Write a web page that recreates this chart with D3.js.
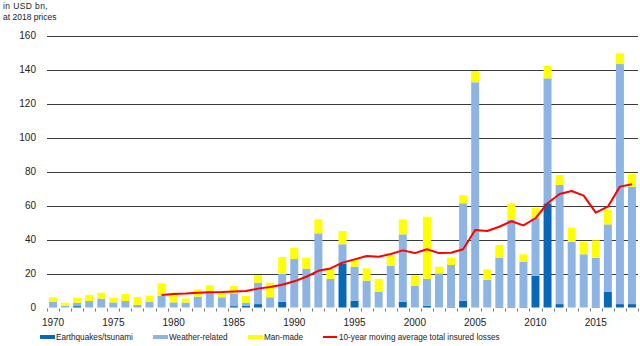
<!DOCTYPE html>
<html>
<head>
<meta charset="utf-8">
<script src="https://cdn.jsdelivr.net/npm/d3@7"></script>
<style>
  body { margin: 0; background: #fff; }
  text { font-family: "Liberation Sans", Arial, sans-serif; fill: #222; }
</style>
</head>
<body>
<svg id="chart" width="640" height="346"></svg>
<script>
// insured losses, USD bn at 2018 prices
var years = [1970,1971,1972,1973,1974,1975,1976,1977,1978,1979,
             1980,1981,1982,1983,1984,1985,1986,1987,1988,1989,
             1990,1991,1992,1993,1994,1995,1996,1997,1998,1999,
             2000,2001,2002,2003,2004,2005,2006,2007,2008,2009,
             2010,2011,2012,2013,2014,2015,2016,2017,2018];

var quake = [0.1,0,0.8,0,0,0,0,0,0,0,
             0,0,0,0,0,0.8,1.0,2.0,0,3.4,
             0,0,0,0,26,4.0,0,0,0,3.4,
             0,1.0,0,0.5,4.0,0,0,0.5,0.5,0.5,
             18.7,61.3,2.0,0,0,0.5,9.3,2.0,2.0];

var weather = [3.3,1.1,2.0,3.8,5.2,3.0,3.8,1.5,3.4,6.9,
               3.0,2.9,6.4,9.7,6.0,7.5,1.8,12.6,6.0,16.5,
               28.5,22.8,43.6,16.8,11.2,20.0,15.8,9.3,24.6,39.6,
               12.8,15.8,20.1,24.5,57.3,132.5,16.2,28.8,51.0,26.4,
               33.8,73.5,70.1,38.7,31.3,28.8,39.6,141.2,69.1];

var manmade = [2.6,1.7,3.0,3.6,3.5,2.8,4.1,4.7,3.5,7.3,
               5.7,2.4,4.3,3.3,2.5,4.3,4.0,4.5,8.6,9.8,
               6.7,6.5,8.3,5.8,7.8,4.3,7.2,7.5,5.9,8.9,
               6.3,36.6,3.9,4.3,4.7,6.6,6.3,7.5,9.8,4.4,
               6.0,7.4,5.8,8.3,7.4,10.2,8.5,6.3,7.4];

// 10-year moving average, starts 1979
var avg = [null,null,null,null,null,null,null,null,null,7.4,
           8.0,8.2,8.7,9.0,9.1,9.4,9.7,11.1,12.1,13.4,
           15.4,18.1,21.6,23.0,26.4,28.3,30.3,29.9,31.5,33.6,
           32.0,34.3,32.0,32.2,34.3,45.6,45.0,47.5,50.7,48.3,
           52.5,61.3,66.8,68.5,65.8,55.8,59.3,71.1,72.5];

var yTicks = [0,20,40,60,80,100,120,140,160];
var xLabels = [1970,1975,1980,1985,1990,1995,2000,2005,2010,2015];

var col = {quake: "#0868b8", weather: "#8db4e2", manmade: "#ffff00", avg: "#ff0000"};

var svg = d3.select("#chart");

var x = d3.scaleBand()
  .domain(years)
  .range([47, 638])
  .paddingInner(0.34)
  .paddingOuter(0.17);

var y = d3.scaleLinear().domain([0, 160]).range([307.5, 35.5]);

// unit label
svg.append("text").attr("x", 3).attr("y", 9).style("font-size", "8.5px").style("letter-spacing", "0.4px").text("in USD bn,");
svg.append("text").attr("x", 3).attr("y", 20).style("font-size", "8.5px").text("at 2018 prices");

// gridlines
svg.append("g").selectAll("line")
  .data(yTicks.filter(function(d) { return d > 0; }))
  .enter().append("line")
  .attr("x1", 47).attr("x2", 638)
  .attr("y1", function(d) { return Math.round(y(d)) + 0.5; })
  .attr("y2", function(d) { return Math.round(y(d)) + 0.5; })
  .attr("stroke", "#3a3a3a").attr("stroke-width", 1);

svg.append("g").selectAll("text")
  .data(yTicks)
  .enter().append("text")
  .attr("x", 36).attr("y", function(d) { return y(d) + 3.5; })
  .attr("text-anchor", "end")
  .style("font-size", "10px")
  .text(function(d) { return d; });

// stacked bars
var rows = years.map(function(yr, i) {
  return {year: yr, quake: quake[i], weather: weather[i], manmade: manmade[i]};
});
var stack = d3.stack().keys(["quake", "weather", "manmade"])(rows);

svg.append("g").selectAll("g")
  .data(stack)
  .enter().append("g")
  .attr("fill", function(s) { return col[s.key]; })
  .selectAll("rect")
  .data(function(s) { return s; })
  .enter().append("rect")
  .attr("x", function(d) { return x(d.data.year); })
  .attr("width", x.bandwidth())
  .attr("y", function(d) { return y(d[1]); })
  .attr("height", function(d) { return Math.max(0, y(d[0]) - y(d[1])); });

// small ticks between bars
var step = x.step();
svg.append("g").selectAll("line")
  .data(years.concat([2019]))
  .enter().append("line")
  .attr("x1", function(d, i) { return Math.round(47 + i * step) + 0.5; })
  .attr("x2", function(d, i) { return Math.round(47 + i * step) + 0.5; })
  .attr("y1", 308.5).attr("y2", 311.5)
  .attr("stroke", "#777").attr("stroke-width", 1);

svg.append("g").selectAll("text")
  .data(xLabels)
  .enter().append("text")
  .attr("x", function(d) { return x(d) + x.bandwidth() / 2; })
  .attr("y", 326)
  .attr("text-anchor", "middle")
  .style("font-size", "10px")
  .text(function(d) { return d; });

// moving average
var line = d3.line()
  .defined(function(d) { return d != null; })
  .x(function(d, i) { return x(years[i]) + x.bandwidth() / 2; })
  .y(function(d) { return y(d); });

svg.append("path")
  .datum(avg)
  .attr("d", line)
  .attr("fill", "none")
  .attr("stroke", col.avg)
  .attr("stroke-width", 2)
  .attr("stroke-linejoin", "round");

// legend
var legend = [
  {label: "Earthquakes/tsunami", color: col.quake, x: 40, type: "rect"},
  {label: "Weather-related", color: col.weather, x: 153, type: "rect"},
  {label: "Man-made", color: col.manmade, x: 248, type: "rect"},
  {label: "10-year moving average total insured losses", color: col.avg, x: 323, type: "line"}
];
var lg = svg.append("g").selectAll("g").data(legend).enter().append("g");
lg.filter(function(d) { return d.type == "rect"; }).append("rect")
  .attr("x", function(d) { return d.x; }).attr("y", 335)
  .attr("width", 15).attr("height", 4)
  .attr("fill", function(d) { return d.color; });
lg.filter(function(d) { return d.type == "line"; }).append("line")
  .attr("x1", function(d) { return d.x; }).attr("x2", function(d) { return d.x + 14; })
  .attr("y1", 337).attr("y2", 337)
  .attr("stroke", function(d) { return d.color; }).attr("stroke-width", 2);
lg.append("text")
  .attr("x", function(d) { return d.x + 16; }).attr("y", 340)
  .style("font-size", "8.2px")
  .text(function(d) { return d.label; });
</script>
</body>
</html>
